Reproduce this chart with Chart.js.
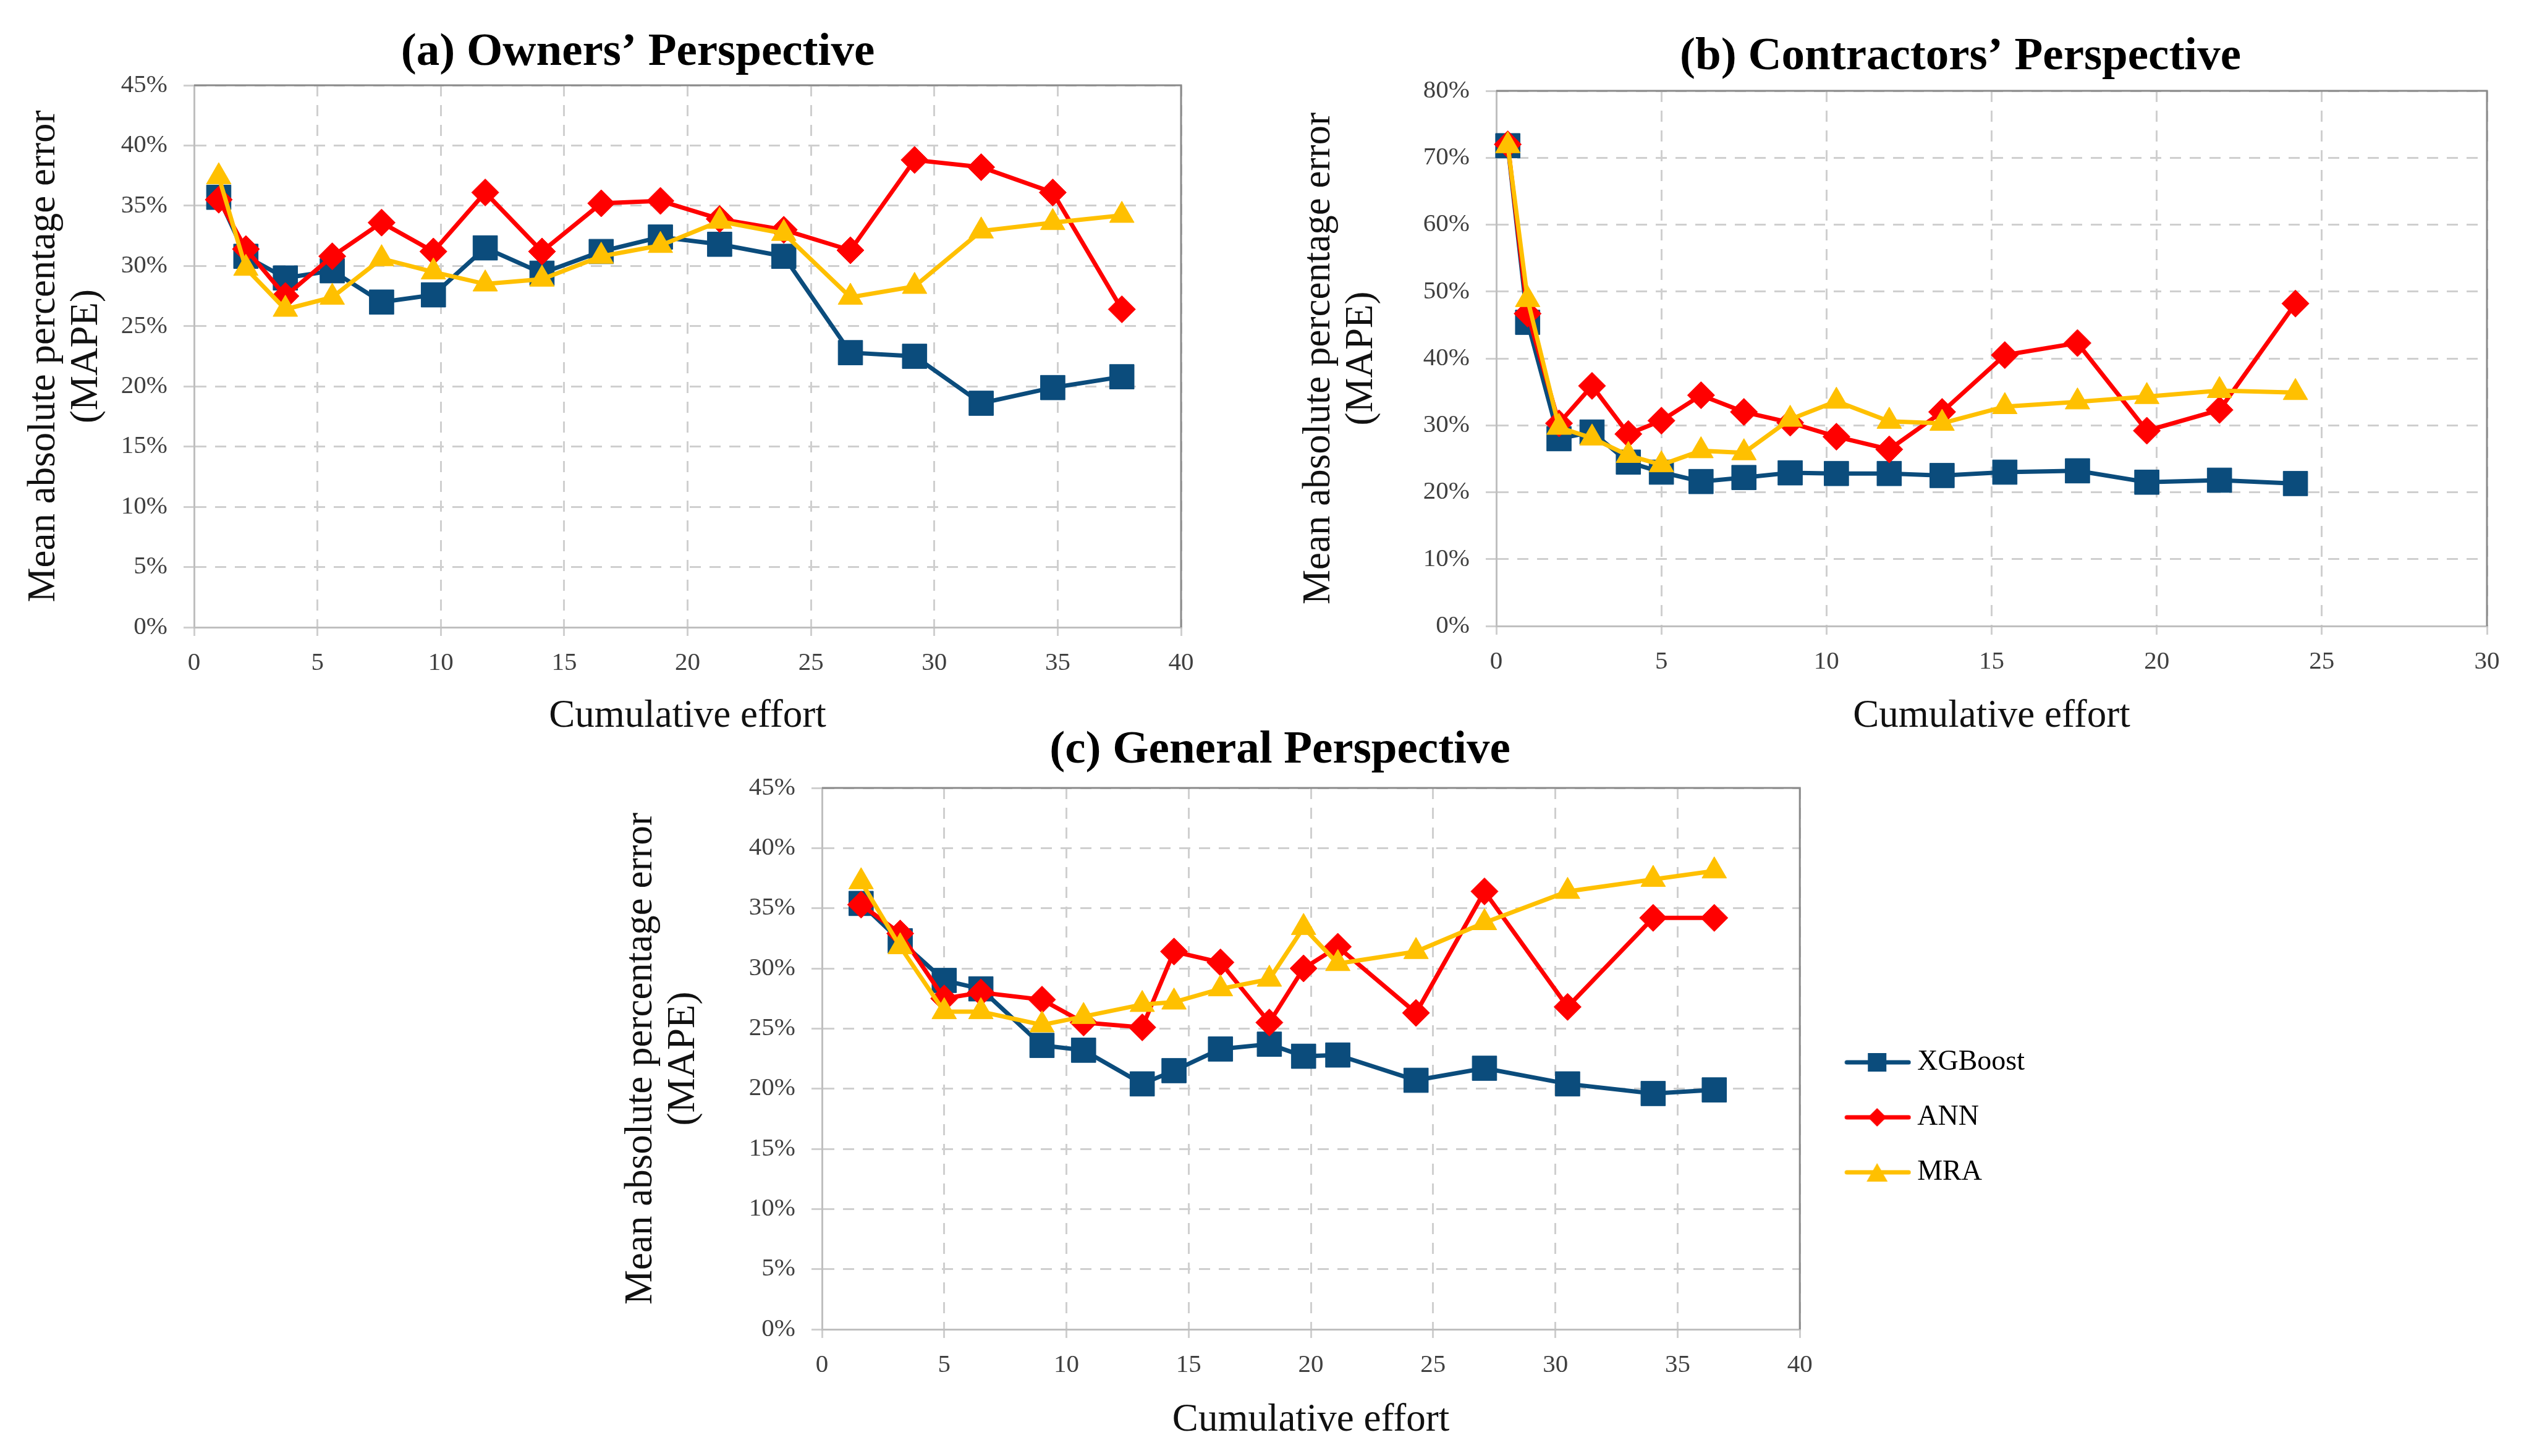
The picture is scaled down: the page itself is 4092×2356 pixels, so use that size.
<!DOCTYPE html>
<html>
<head>
<meta charset="utf-8">
<script src="https://cdn.jsdelivr.net/npm/chart.js@4.4.1/dist/chart.umd.min.js"></script>
<style>
  html, body { margin: 0; padding: 0; background: #fff; overflow: hidden; width: 4092px; height: 2356px; }
  canvas { position: absolute; }
</style>
</head>
<body>
<canvas id="chartA" width="2064" height="1240" style="left:0px;top:0px"></canvas>
<canvas id="chartB" width="2264" height="1240" style="left:2040px;top:0px"></canvas>
<canvas id="chartC" width="2430" height="1356" style="left:856px;top:1130px"></canvas>
<script>
/*******************
 * DATA
 ******************/
const seriesNames = ['XGBoost', 'ANN', 'MRA'];

// (a) Owners' Perspective
const ownersEffort = [1.0, 2.1, 3.7, 5.6, 7.6, 9.7, 11.8, 14.1, 16.5, 18.9, 21.3, 23.9, 26.6, 29.2, 31.9, 34.8, 37.6];
const ownersXgb = [35.7, 30.8, 29.0, 29.6, 27.0, 27.6, 31.5, 29.4, 31.2, 32.4, 31.8, 30.8, 22.8, 22.5, 18.6, 19.9, 20.8];
const ownersAnn = [35.5, 31.4, 27.5, 30.8, 33.6, 31.2, 36.1, 31.2, 35.2, 35.4, 33.9, 33.0, 31.3, 38.8, 38.2, 36.1, 26.4];
const ownersMra = [37.4, 29.8, 26.4, 27.4, 30.6, 29.5, 28.5, 28.9, 30.8, 31.7, 33.7, 32.7, 27.4, 28.3, 32.9, 33.6, 34.2];

// (b) Contractors' Perspective
const contractorsEffort = [0.35, 0.95, 1.9, 2.9, 4.0, 5.0, 6.2, 7.5, 8.9, 10.3, 11.9, 13.5, 15.4, 17.6, 19.7, 21.9, 24.2];
const contractorsXgb = [71.8, 45.4, 28.0, 29.0, 24.5, 23.0, 21.6, 22.2, 22.9, 22.8, 22.8, 22.5, 23.0, 23.2, 21.5, 21.8, 21.3];
const contractorsAnn = [72.0, 46.7, 30.3, 35.9, 28.7, 30.7, 34.5, 32.0, 30.4, 28.3, 26.4, 32.0, 40.5, 42.3, 29.2, 32.3, 48.2];
const contractorsMra = [71.8, 48.8, 29.7, 28.1, 25.5, 24.1, 26.2, 25.9, 30.9, 33.6, 30.6, 30.3, 32.8, 33.5, 34.3, 35.2, 34.9];

// (c) General Perspective
const generalEffort = [1.6, 3.2, 5.0, 6.5, 9.0, 10.7, 13.1, 14.4, 16.3, 18.3, 19.7, 21.1, 24.3, 27.1, 30.5, 34.0, 36.5];
const generalXgb = [35.4, 32.3, 29.0, 28.3, 23.6, 23.2, 20.4, 21.5, 23.3, 23.7, 22.7, 22.8, 20.7, 21.7, 20.4, 19.6, 19.9];
const generalAnn = [35.3, 32.9, 27.5, 28.0, 27.4, 25.5, 25.1, 31.4, 30.5, 25.5, 30.0, 31.8, 26.3, 36.4, 26.8, 34.2, 34.2];
const generalMra = [37.2, 31.8, 26.4, 26.4, 25.3, 26.0, 27.0, 27.2, 28.3, 29.1, 33.4, 30.4, 31.4, 33.8, 36.4, 37.4, 38.1];

/*******************
 * STYLE
 ******************/
const FONT = "'Liberation Serif', 'Times New Roman', serif";
const seriesColors = ['#0b4c7c', '#ff0000', '#ffc000'];
const seriesMarkers = ['rect', 'rectRot', 'triangle'];
const markerRadius = [28, 22, 23];

// solid frame on top and right of the plot area (Excel style)
const frameBorder = {
    id: 'frameBorder',
    beforeDatasetsDraw(chart) {
        const {ctx, chartArea} = chart;
        ctx.save();
        ctx.strokeStyle = '#8a8a8a';
        ctx.lineWidth = 3;
        ctx.beginPath();
        ctx.moveTo(chartArea.left, chartArea.top);
        ctx.lineTo(chartArea.right, chartArea.top);
        ctx.lineTo(chartArea.right, chartArea.bottom);
        ctx.stroke();
        ctx.restore();
    }
};

// legend symbol: line with marker in the middle
function legendIcon(i) {
    const c = document.createElement('canvas');
    c.width = 150;
    c.height = 44;
    const g = c.getContext('2d');
    g.strokeStyle = seriesColors[i];
    g.lineWidth = 7;
    g.lineCap = 'round';
    g.beginPath();
    g.moveTo(46, 22);
    g.lineTo(146, 22);
    g.stroke();
    g.fillStyle = seriesColors[i];
    g.beginPath();
    if (seriesMarkers[i] === 'rect') {
        g.rect(80, 7, 30, 30);
    } else if (seriesMarkers[i] === 'rectRot') {
        g.moveTo(95, 7); g.lineTo(110, 22); g.lineTo(95, 37); g.lineTo(80, 22);
        g.closePath();
    } else {
        g.moveTo(95, 7); g.lineTo(112, 37); g.lineTo(78, 37);
        g.closePath();
    }
    g.fill();
    return c;
}

function buildDatasets(effort, xgb, ann, mra) {
    return [xgb, ann, mra].map((vals, i) => ({
        label: seriesNames[i],
        data: effort.map((x, k) => ({x: x, y: vals[k]})),
        borderColor: seriesColors[i],
        backgroundColor: seriesColors[i],
        borderWidth: 7,
        pointStyle: seriesMarkers[i],
        pointRadius: markerRadius[i],
        pointBorderWidth: 1,
        pointBackgroundColor: seriesColors[i],
        pointBorderColor: seriesColors[i],
        order: 2 - i,
        clip: false,
        tension: 0
    }));
}

function makePanel(canvasId, cfg) {
    const scales = {
        x: {
            type: 'linear',
            min: 0,
            max: cfg.xMax,
            ticks: {stepSize: 5, color: '#404040', font: {family: FONT, size: 41}, padding: 20},
            grid: {color: '#cfcfcf', lineWidth: 3, tickLength: 14},
            border: {display: true, color: '#bfbfbf', width: 3, dash: [18, 14]},
            title: {
                display: true,
                text: 'Cumulative effort',
                color: '#111',
                font: {family: FONT, size: 63, lineHeight: 1.2},
                padding: {top: 0, bottom: cfg.xTitlePad}
            },
            afterFit: s => { s.height = cfg.xHeight; }
        },
        y: {
            type: 'linear',
            min: 0,
            max: cfg.yMax,
            ticks: {stepSize: cfg.yStep, color: '#404040', font: {family: FONT, size: 41}, padding: 26,
                callback: v => v + '%'},
            grid: {color: '#cfcfcf', lineWidth: 3, tickLength: 17},
            border: {display: true, color: '#bfbfbf', width: 3, dash: [18, 14]},
            title: {
                display: true,
                text: ['Mean absolute percentage error', '(MAPE)'],
                color: '#111',
                font: {family: FONT, size: 63, lineHeight: 1.1},
                padding: {top: cfg.yTitlePad, bottom: 0}
            },
            afterFit: s => { s.width = cfg.yWidth; }
        }
    };
    if (cfg.rightWidth) {
        scales.yPad = {
            type: 'linear',
            position: 'right',
            display: true,
            grid: {display: false},
            border: {display: false},
            ticks: {display: false},
            afterFit: s => { s.width = cfg.rightWidth; }
        };
    }

    const legendIcons = [0, 1, 2].map(legendIcon);

    return new Chart(document.getElementById(canvasId), {
        type: 'line',
        data: {datasets: buildDatasets(cfg.effort, cfg.xgb, cfg.ann, cfg.mra)},
        options: {
            responsive: false,
            devicePixelRatio: 1,
            animation: false,
            events: [],
            layout: {padding: 0},
            scales: scales,
            plugins: {
                title: {
                    display: true,
                    text: cfg.title,
                    color: '#000',
                    font: {family: FONT, size: 75, weight: 'bold', lineHeight: 1.2},
                    padding: {top: cfg.titleTop, bottom: cfg.titleBottom}
                },
                legend: {
                    display: !!cfg.legend,
                    position: 'right',
                    align: 'center',
                    labels: {
                        usePointStyle: true,
                        pointStyleWidth: 124,
                        padding: 43,
                        color: '#1a1a1a',
                        font: {family: FONT, size: 46},
                        generateLabels: chart => chart.data.datasets.map((ds, i) => ({
                            text: ds.label,
                            pointStyle: legendIcons[i],
                            fillStyle: ds.borderColor,
                            strokeStyle: ds.borderColor,
                            lineWidth: 0,
                            hidden: false,
                            datasetIndex: i
                        }))
                    }
                },
                tooltip: {enabled: false}
            }
        },
        plugins: [frameBorder]
    });
}

/*******************
 * CHARTS
 ******************/
makePanel('chartA', {
    title: '(a) Owners\u2019 Perspective',
    effort: ownersEffort, xgb: ownersXgb, ann: ownersAnn, mra: ownersMra,
    xMax: 40, yMax: 45, yStep: 5,
    titleTop: 41, titleBottom: 7,
    yWidth: 314, yTitlePad: 37,
    xHeight: 225, xTitlePad: 43,
    rightWidth: 153
});

makePanel('chartB', {
    title: '(b) Contractors\u2019 Perspective',
    effort: contractorsEffort, xgb: contractorsXgb, ann: contractorsAnn, mra: contractorsMra,
    xMax: 30, yMax: 80, yStep: 10,
    titleTop: 48, titleBottom: 9,
    yWidth: 381, yTitlePad: 60,
    xHeight: 227, xTitlePad: 43,
    rightWidth: 280
});

makePanel('chartC', {
    title: '(c) General Perspective',
    effort: generalEffort, xgb: generalXgb, ann: generalAnn, mra: generalMra,
    xMax: 40, yMax: 45, yStep: 5,
    titleTop: 40, titleBottom: 15,
    yWidth: 474, yTitlePad: 147,
    xHeight: 335, xTitlePad: 150,
    legend: true
});
</script>
</body>
</html>
